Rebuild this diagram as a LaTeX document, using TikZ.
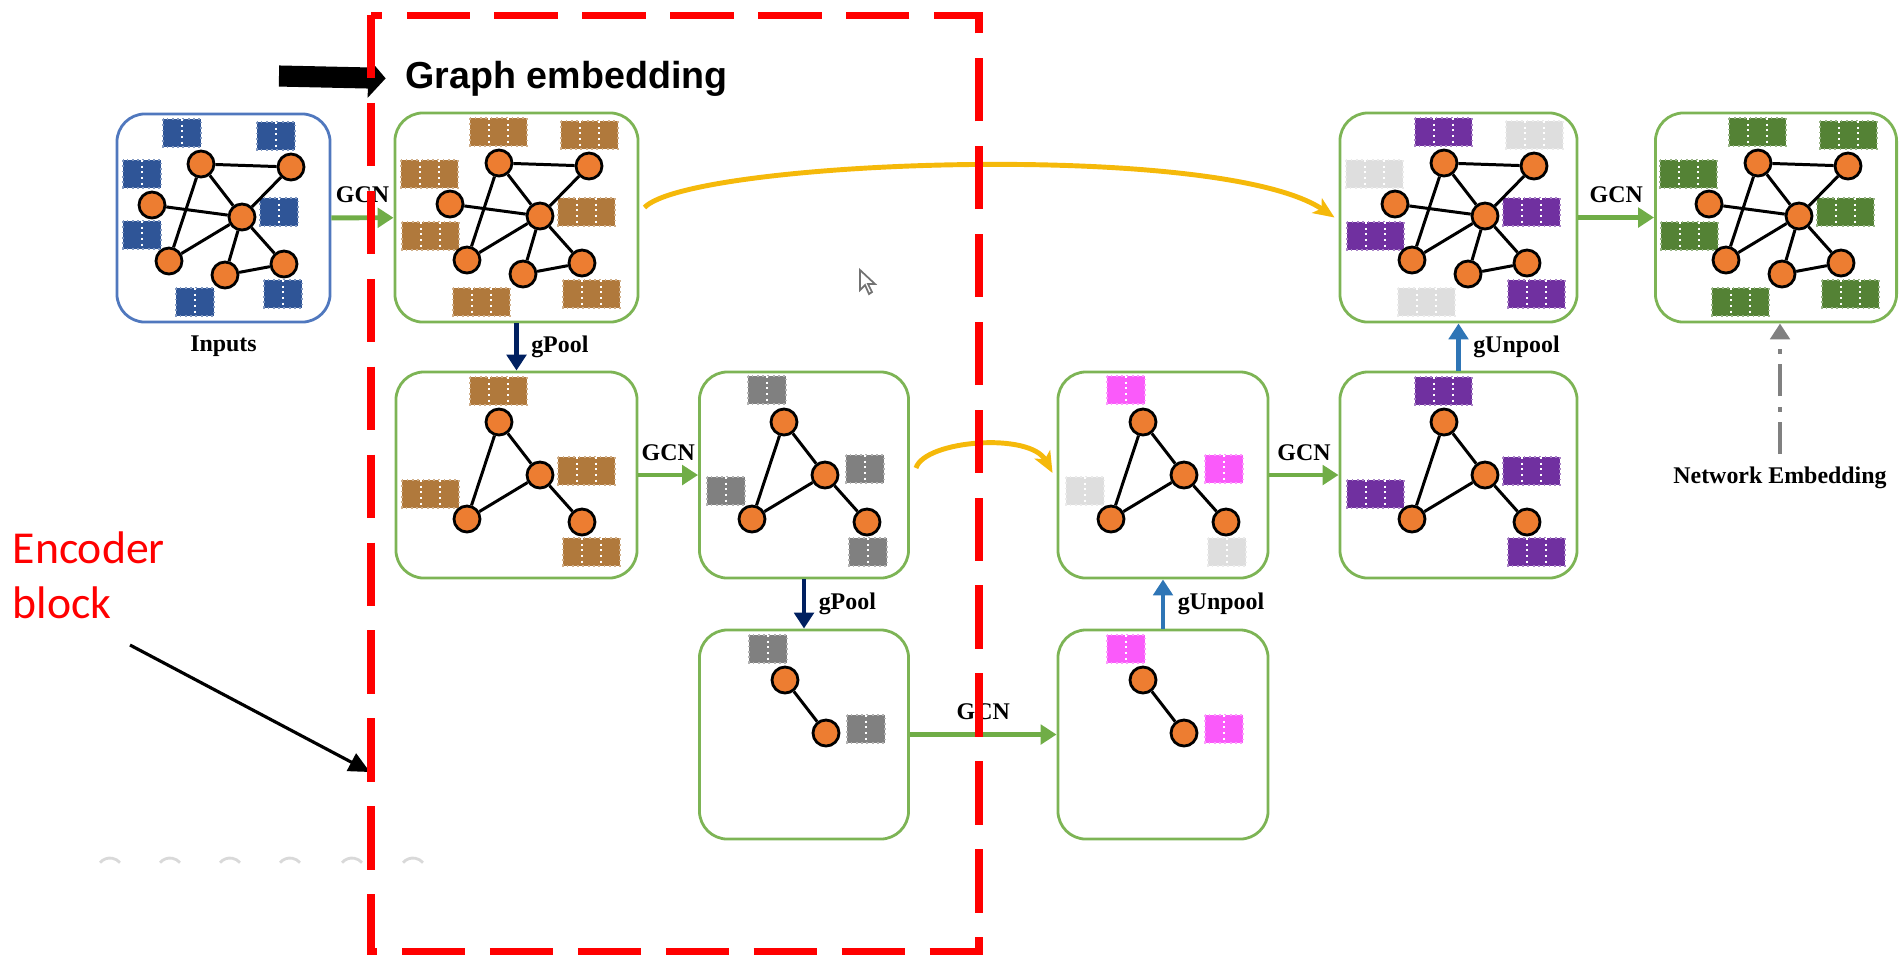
\documentclass[tikz,border=0pt]{standalone}
\usepackage{fontspec}
\setmainfont{Liberation Serif}
\newfontfamily\headfont{Liberation Sans}
\newfontfamily\notefont{Carlito}
\usetikzlibrary{arrows.meta,calc,positioning}

\definecolor{boxgreen}{RGB}{125,180,85}
\definecolor{boxblue}{RGB}{80,120,190}
\definecolor{nodeorange}{RGB}{237,125,49}
\definecolor{fbrown}{RGB}{176,121,60}
\definecolor{fgrey}{RGB}{128,128,128}
\definecolor{flight}{RGB}{222,222,222}
\definecolor{fpink}{RGB}{250,90,250}
\definecolor{fpurple}{RGB}{112,48,160}
\definecolor{fgreen}{RGB}{84,130,53}
\definecolor{fblue}{RGB}{47,85,151}
\definecolor{arrgreen}{RGB}{112,173,71}
\definecolor{arrnavy}{RGB}{0,32,96}
\definecolor{arrblue}{RGB}{46,117,182}
\definecolor{skipyellow}{RGB}{245,185,10}

\tikzset{
	gbox/.style={draw=boxgreen, line width=0.8pt, rounded corners=8pt, inner sep=0pt},
	inpbox/.style={gbox, draw=boxblue},
	vtx/.style={circle, draw=black, fill=nodeorange, line width=0.8pt, minimum size=0.26cm, inner sep=0pt},
	glink/.style={black, line width=0.85pt},
	gcnarrow/.style={arrgreen, line width=1.4pt, -{Triangle[length=4.5pt,width=5.5pt]}},
	poolarrow/.style={arrnavy, line width=1.4pt, -{Triangle[length=4.5pt,width=5.5pt]}},
	unpoolarrow/.style={arrblue, line width=1.4pt, -{Triangle[length=4.5pt,width=5.5pt]}},
	skiparrow/.style={skipyellow, line width=1.4pt, -{Stealth[length=6pt,width=5pt,inset=1.5pt]}},
	nearrow/.style={fgrey, line width=1.3pt, dash pattern=on 9pt off 3pt on 1.5pt off 3pt, -{Triangle[length=4.5pt,width=5.5pt]}},
	lbl/.style={text=black, font=\bfseries\fontsize{6.8pt}{8pt}\selectfont, inner sep=1.5pt},
	encbox/.style={red, line width=2pt, dash pattern=on 18pt off 7pt},
}

% feature block: (left,top)[cells]{colour}
\def\fblock(#1,#2)[#3]#4{%
	\fill[#4] (#1,#2) rectangle ++({19*#3},28);
	\draw[#4!60!white, densely dotted, line width=0.5pt] (#1,#2) rectangle ++({19*#3},28);
	\foreach \k in {2,...,#3} \draw[white, densely dotted, line width=0.6pt] ({#1+19*(\k-1)},#2) -- ++(0,28);
}

\newcommand\fullgraph{%
	\node[vtx] (v1) at (-41,-53) {};
	\node[vtx] (v2) at (49,-50) {};
	\node[vtx] (v3) at (-90,-12) {};
	\node[vtx] (v4) at (0,0) {};
	\node[vtx] (v5) at (-73,44) {};
	\node[vtx] (v6) at (-17,58) {};
	\node[vtx] (v7) at (42,47) {};
	\draw[glink] (v1) -- (v2) (v1) -- (v4) (v1) -- (v5) (v2) -- (v4) (v3) -- (v4)
		(v4) -- (v5) (v4) -- (v6) (v4) -- (v7) (v6) -- (v7);
}
\newcommand\trigraph{%
	\node[vtx] (v1) at (-41,-53) {};
	\node[vtx] (v4) at (0,0) {};
	\node[vtx] (v5) at (-73,44) {};
	\node[vtx] (v7) at (42,47) {};
	\draw[glink] (v1) -- (v4) (v1) -- (v5) (v4) -- (v5) (v4) -- (v7);
}
\newcommand\pairgraph{%
	\node[vtx] (v1) at (-41,-53) {};
	\node[vtx] (v4) at (0,0) {};
	\draw[glink] (v1) -- (v4);
}

\begin{document}
\begin{tikzpicture}[x=0.01cm, y=-0.01cm]
		%%%%% START %%%%%
		\useasboundingbox (0,0) rectangle (1900,959);
		
		% boxes
		\node[inpbox, minimum width=2.13cm, minimum height=2.08cm] (inp) at (223.5,218) {};
		\node[gbox, minimum width=2.43cm, minimum height=2.09cm] (enc1) at (516.5,217.5) {};
		\node[gbox, minimum width=2.41cm, minimum height=2.06cm] (enc2) at (516.5,475) {};
		\node[gbox, minimum width=2.09cm, minimum height=2.06cm] (enc3) at (804,475) {};
		\node[gbox, minimum width=2.09cm, minimum height=2.09cm] (btm) at (804,734.5) {};
		\node[gbox, minimum width=2.10cm, minimum height=2.09cm] (dec1) at (1163,734.5) {};
		\node[gbox, minimum width=2.10cm, minimum height=2.06cm] (dec2) at (1163,475) {};
		\node[gbox, minimum width=2.37cm, minimum height=2.06cm] (dec3) at (1458.5,475) {};
		\node[gbox, minimum width=2.37cm, minimum height=2.09cm] (dec4) at (1458.5,217.5) {};
		\node[gbox, minimum width=2.41cm, minimum height=2.09cm] (outp) at (1776,217.5) {};
		
		% inputs
		\begin{scope}[shift={(242,217)}]
			\fblock(-79,-98)[2]{fblue}
			\fblock(15,-95)[2]{fblue}
			\fblock(-119,-57)[2]{fblue}
			\fblock(-119,4)[2]{fblue}
			\fblock(18,-19)[2]{fblue}
			\fblock(-66,71)[2]{fblue}
			\fblock(22,63)[2]{fblue}
			\fullgraph
		\end{scope}
		
		% first GCN
		\begin{scope}[shift={(540,216)}]
			\fblock(-70,-98)[3]{fbrown}
			\fblock(21,-95)[3]{fbrown}
			\fblock(-139,-56)[3]{fbrown}
			\fblock(-138,6)[3]{fbrown}
			\fblock(18,-18)[3]{fbrown}
			\fblock(-87,72)[3]{fbrown}
			\fblock(23,64)[3]{fbrown}
			\fullgraph
		\end{scope}
		
		\begin{scope}[shift={(540,475)}]
			\fblock(-70,-98)[3]{fbrown}
			\fblock(18,-18)[3]{fbrown}
			\fblock(-138,5)[3]{fbrown}
			\fblock(23,63)[3]{fbrown}
			\trigraph
		\end{scope}
		
		\begin{scope}[shift={(825,475)}]
			\fblock(-77,-99)[2]{fgrey}
			\fblock(21,-20)[2]{fgrey}
			\fblock(-118,2)[2]{fgrey}
			\fblock(24,63)[2]{fgrey}
			\trigraph
		\end{scope}
		
		\begin{scope}[shift={(826,733)}]
			\fblock(-77,-98)[2]{fgrey}
			\fblock(21,-18)[2]{fgrey}
			\pairgraph
		\end{scope}
		
		% decoder side
		\begin{scope}[shift={(1184,733)}]
			\fblock(-77,-98)[2]{fpink}
			\fblock(21,-18)[2]{fpink}
			\pairgraph
		\end{scope}
		
		\begin{scope}[shift={(1184,475)}]
			\fblock(-77,-99)[2]{fpink}
			\fblock(21,-20)[2]{fpink}
			\fblock(-118,2)[2]{flight}
			\fblock(24,63)[2]{flight}
			\trigraph
		\end{scope}
		
		\begin{scope}[shift={(1485,475)}]
			\fblock(-70,-98)[3]{fpurple}
			\fblock(18,-18)[3]{fpurple}
			\fblock(-138,5)[3]{fpurple}
			\fblock(23,63)[3]{fpurple}
			\trigraph
		\end{scope}
		
		\begin{scope}[shift={(1485,216)}]
			\fblock(-70,-98)[3]{fpurple}
			\fblock(21,-95)[3]{flight}
			\fblock(-139,-56)[3]{flight}
			\fblock(-138,6)[3]{fpurple}
			\fblock(18,-18)[3]{fpurple}
			\fblock(-87,72)[3]{flight}
			\fblock(23,64)[3]{fpurple}
			\fullgraph
		\end{scope}
		
		\begin{scope}[shift={(1799,216)}]
			\fblock(-70,-98)[3]{fgreen}
			\fblock(21,-95)[3]{fgreen}
			\fblock(-139,-56)[3]{fgreen}
			\fblock(-138,6)[3]{fgreen}
			\fblock(18,-18)[3]{fgreen}
			\fblock(-87,72)[3]{fgreen}
			\fblock(23,64)[3]{fgreen}
			\fullgraph
		\end{scope}
		
		% connectors
		\node[lbl, below=0.6mm of inp] (inlbl) {Inputs};
		\draw[gcnarrow] (inp) -- node[lbl, above=2pt] {GCN} (enc1);
		\draw[poolarrow] (enc1) -- node[lbl, right=2pt] {gPool} (enc2);
		\draw[gcnarrow] (enc2) -- node[lbl, above=2pt] {GCN} (enc3);
		\draw[poolarrow] (enc3) -- node[lbl, right=2pt] {gPool} (btm);
		\draw[gcnarrow] (btm) -- node[lbl, above=2pt] {GCN} (dec1);
		\draw[unpoolarrow] (dec1) -- node[lbl, right=2pt] {gUnpool} (dec2);
		\draw[gcnarrow] (dec2) -- node[lbl, above=2pt] {GCN} (dec3);
		\draw[unpoolarrow] (dec3) -- node[lbl, right=2pt] {gUnpool} (dec4);
		\draw[gcnarrow] (dec4) -- node[lbl, above=2pt] {GCN} (outp);
		
		\draw[skiparrow] ($(enc1.east)+(5,-10)$) .. controls (690,160) and (1220,140) .. ($(dec4.west)+(-4,0)$);
		\draw[skiparrow] ($(enc3.east)+(6,-7)$) .. controls (925,440) and (1030,432) .. ($(dec2.west)+(-4,-2)$);
		
		\node[lbl] (nelbl) at (1780,478) {Network Embedding};
		\draw[nearrow, shorten <=2pt] (nelbl.north) -- (nelbl.north |- outp.south);
		
		% graph embedding pointer
		\coordinate (getail) at (279,76);
		\node[anchor=base west, inner sep=0pt, font=\headfont\bfseries\fontsize{10.7pt}{12pt}\selectfont] (gelbl) at (405,88) {Graph embedding};
		\draw[black, line width=6pt, -{Triangle[length=5pt,width=11pt]}] (getail) -- ([xshift=-5.5pt]gelbl.west);
		
		% encoder note
		\node[anchor=base west, inner sep=0pt, text=red, font=\notefont\fontsize{13pt}{15pt}\selectfont] (enclbl1) at (12,563) {Encoder};
		\node[anchor=base west, inner sep=0pt, text=red, font=\notefont\fontsize{13pt}{15pt}\selectfont] (enclbl2) at (12,618) {block};
		\coordinate (encptr) at (130,645);
		\coordinate (enchit) at (370,772);
		\draw[black, line width=0.9pt, -{Triangle[length=6pt,width=5.5pt]}] (encptr) -- (enchit);
		
		% faint leftovers
		\foreach \cx in {110,170,230,290,352,413}
			\draw[black!15, line width=0.8pt] (\cx,871) ++(220:13) arc (220:320:13);
		\draw[black!55, fill=white, line width=0.5pt] (860,270) -- (860,290) -- (865,285) -- (869,294) -- (872,292) -- (868,284) -- (875,284) -- cycle;
		
		% encoder block frame
		\draw[encbox] (371,15) rectangle (979,951);
		
		%%%%% END %%%%%
\end{tikzpicture}
\end{document}
